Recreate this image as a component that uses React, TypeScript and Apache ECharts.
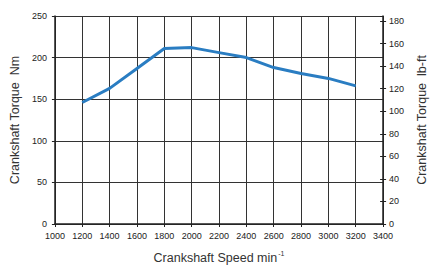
import React, { useEffect, useRef } from "react";
import * as echarts from "echarts";

const speeds = [1200, 1400, 1600, 1800, 2000, 2200, 2400, 2600, 2800, 3000, 3200];
const torqueNm = [146, 163, 187, 211, 212, 206, 200, 188, 181, 175, 166];
const NM_PER_LBFT = 1.35582;

const FONT = "'Liberation Sans Narrow', 'Arial Narrow', 'Liberation Sans', Arial, sans-serif";

export default function App() {
  const ref = useRef<HTMLDivElement>(null);
  useEffect(() => {
    if (!ref.current) return;
    const chart = echarts.init(ref.current, null, { renderer: "svg", width: 436, height: 269 });
    const lbMax = 250 / NM_PER_LBFT;
    const lineColor = "#222";
    chart.setOption({
      animation: false,
      grid: { left: 51, right: 38, top: 16, bottom: 41 },
      xAxis: {
        type: "value",
        min: 1000,
        max: 3400,
        interval: 200,
        name: "Crankshaft Speed {sup|min}{s|-1}",
        nameLocation: "middle",
        nameGap: 26,
        nameTextStyle: {
          fontFamily: FONT,
          fontSize: 12.5,
          color: "#333",
          rich: {
            sup: { fontFamily: FONT, fontSize: 12.5, color: "#333" },
            s: { fontFamily: FONT, fontSize: 7, color: "#333", verticalAlign: "top", padding: [0, 0, 8, 1] },
          },
        },
        axisLine: { show: true, lineStyle: { color: lineColor, width: 1.5 } },
        axisTick: { show: true, length: 3, lineStyle: { color: lineColor } },
        axisLabel: { fontFamily: FONT, fontSize: 9, color: "#222", margin: 7, formatter: (v: number) => String(v) },
        splitLine: { show: true, lineStyle: { color: "#333", width: 1 } },
      },
      yAxis: [
        {
          type: "value",
          min: 0,
          max: 250,
          interval: 50,
          position: "left",
          name: "Crankshaft Torque  Nm",
          nameLocation: "middle",
          nameGap: 27,
          nameRotate: 90,
          nameTextStyle: { fontFamily: FONT, fontSize: 12.5, color: "#333" },
          axisLine: { show: true, lineStyle: { color: lineColor, width: 1.5 } },
          axisTick: { show: true, length: 3, lineStyle: { color: lineColor } },
          axisLabel: { fontFamily: FONT, fontSize: 9, color: "#222", margin: 8, formatter: (v: number) => String(v) },
          splitLine: { show: true, lineStyle: { color: "#333", width: 1 } },
        },
        {
          type: "value",
          min: 0,
          max: lbMax,
          interval: 20,
          position: "right",
          name: "Crankshaft Torque  lb-ft",
          nameLocation: "middle",
          nameGap: 27,
          nameRotate: 90,
          nameTextStyle: { fontFamily: FONT, fontSize: 12.5, color: "#333" },
          axisLine: { show: true, lineStyle: { color: lineColor, width: 1.5 } },
          axisTick: { show: true, length: 3, lineStyle: { color: lineColor } },
          axisLabel: { fontFamily: FONT, fontSize: 9, color: "#222", margin: 6, showMaxLabel: false, formatter: (v: number) => String(Math.round(v)) },
          splitLine: { show: false },
        },
        {
          type: "value",
          min: 0,
          max: lbMax,
          interval: 20,
          position: "right",
          axisLine: { show: false },
          axisTick: { show: true, inside: true, length: 3, lineStyle: { color: lineColor } },
          axisLabel: { show: false },
          splitLine: { show: false },
        },
      ],
      series: [
        {
          type: "line",
          yAxisIndex: 0,
          data: speeds.map((s, i) => [s, torqueNm[i]]),
          symbol: "none",
          lineStyle: { color: "#2a7dc2", width: 3 },
        },
      ],
    });
    return () => chart.dispose();
  }, []);
  return (
    <div
      ref={ref}
      style={{ position: "fixed", left: 0, top: 0, width: 436, height: 269, background: "#fff" }}
    />
  );
}
